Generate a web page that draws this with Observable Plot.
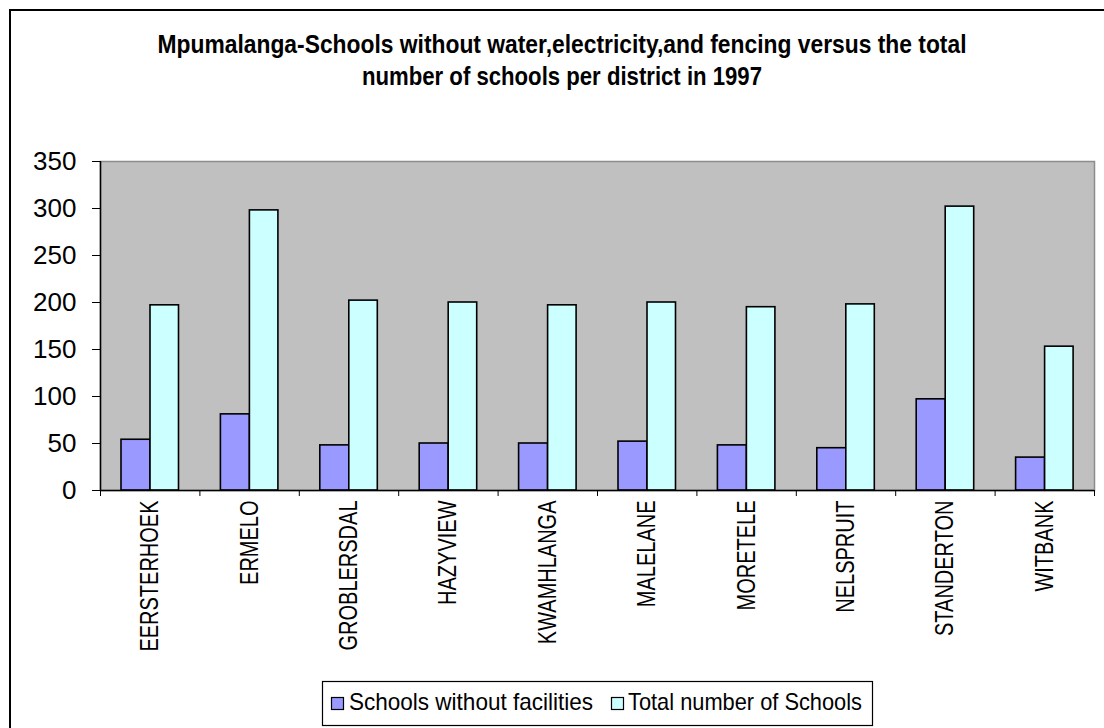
<!DOCTYPE html>
<html>
<head>
<meta charset="utf-8">
<script src="https://cdn.jsdelivr.net/npm/d3@7"></script>
<script src="https://cdn.jsdelivr.net/npm/@observablehq/plot@0.6"></script>
<style>
  html, body { margin: 0; padding: 0; width: 1104px; height: 728px; overflow: hidden; background: #fff; }
  body { position: relative; font-family: "Liberation Sans", Arial, sans-serif; }
  #chart { position: absolute; left: 0; top: 0; }
  #border { position: absolute; left: 9px; top: 9px; width: 1200px; height: 800px; border: 2px solid #000; box-sizing: border-box; }
  svg.overlay { position: absolute; left: 0; top: 0; overflow: visible; }
</style>
</head>
<body>
<div id="border"></div>
<div id="chart"></div>
<svg class="overlay" id="title" width="1104" height="110"></svg>
<svg class="overlay" id="legend" width="1104" height="728" style="pointer-events:none"></svg>
<script>
// ---- data ----
const titleLines = [
  "Mpumalanga-Schools without water,electricity,and fencing versus the total",
  "number of schools per district in 1997"
];
const districts = ["EERSTERHOEK", "ERMELO", "GROBLERSDAL", "HAZYVIEW", "KWAMHLANGA",
                   "MALELANE", "MORETELE", "NELSPRUIT", "STANDERTON", "WITBANK"];
const schoolsWithoutFacilities = [54, 81, 48, 50, 50, 52, 48, 45, 97, 35];
const totalNumberOfSchools = [197, 298, 202, 200, 197, 200, 195, 198, 302, 153];
const seriesNames = ["Schools without facilities", "Total number of Schools"];
const seriesColors = ["#9999FF", "#CCFFFF"];
const yTicks = [0, 50, 100, 150, 200, 250, 300, 350];

// ---- layout ----
const W = 1104, H = 728;
const mLeft = 100, mRight = 10, mTop = 161, mBottom = H - 490;
const band = (W - mLeft - mRight) / districts.length;
const half = band / 2;

const rows = districts.map((d, i) => ({
  district: d,
  without: schoolsWithoutFacilities[i],
  total: totalNumberOfSchools[i]
}));

const plot = Plot.plot({
  width: W,
  height: H,
  marginLeft: mLeft,
  marginRight: mRight,
  marginTop: mTop,
  marginBottom: mBottom,
  style: { fontFamily: '"Liberation Sans", Arial, sans-serif', color: "#000", background: "transparent", overflow: "visible" },
  x: { type: "band", domain: districts, padding: 0, round: false, axis: null },
  y: { domain: [0, 350], label: null, axis: null },
  marks: [
    Plot.frame({ fill: "#C0C0C0", stroke: "#8C8C8C", strokeWidth: 1.5 }),
    Plot.barY(rows, { x: "district", y: "without", fill: seriesColors[0], stroke: "#000", strokeWidth: 1.6,
                      insetLeft: 21, insetRight: band - 50 }),
    Plot.barY(rows, { x: "district", y: "total", fill: seriesColors[1], stroke: "#000", strokeWidth: 1.6,
                      insetLeft: 50, insetRight: band - 78.5 }),
    Plot.ruleY([0], { stroke: "#000", strokeWidth: 1.5 }),
    Plot.ruleX([districts[0]], { x: d => d, dx: -half, stroke: "#000", strokeWidth: 1.5 }),
    Plot.ruleX(districts, { x: d => d, dx: -half, y1: 0, y2: 0, insetBottom: -6, stroke: "#000", strokeWidth: 1 }),
    Plot.ruleX([districts[districts.length - 1]], { x: d => d, dx: half, y1: 0, y2: 0, insetBottom: -6, stroke: "#000", strokeWidth: 1 }),
    Plot.axisY({ ticks: yTicks, tickSize: 8, tickPadding: 16, fontSize: 26, stroke: "#000" }),
    Plot.text(districts, { x: d => d, y: () => 0, dy: 10, text: d => d, rotate: -90,
                           textAnchor: "end", lineAnchor: "middle", fontSize: 25, fill: "#000" })
  ]
});
document.getElementById("chart").appendChild(plot);

// condense rotated district labels (narrow glyphs as in the reference)
plot.querySelectorAll('g[aria-label="text"] text').forEach(t => {
  t.setAttribute("transform", t.getAttribute("transform") + " scale(0.8,1)");
});

// ---- title ----
const NS = "http://www.w3.org/2000/svg";
const titleSvg = document.getElementById("title");
const titleSpec = [
  { y: 53, len: 809, cx: 562 },
  { y: 85, len: 400, cx: 562 }
];
titleLines.forEach((s, i) => {
  const t = document.createElementNS(NS, "text");
  t.setAttribute("x", titleSpec[i].cx);
  t.setAttribute("y", titleSpec[i].y);
  t.setAttribute("text-anchor", "middle");
  t.setAttribute("font-size", "25");
  t.setAttribute("font-weight", "bold");
  t.setAttribute("font-family", '"Liberation Sans", Arial, sans-serif');
  t.setAttribute("textLength", titleSpec[i].len);
  t.setAttribute("lengthAdjust", "spacingAndGlyphs");
  t.textContent = s;
  titleSvg.appendChild(t);
});

// ---- legend ----
const lg = document.getElementById("legend");
const box = document.createElementNS(NS, "rect");
box.setAttribute("x", 322.5); box.setAttribute("y", 681.5);
box.setAttribute("width", 550); box.setAttribute("height", 44);
box.setAttribute("fill", "#fff"); box.setAttribute("stroke", "#000"); box.setAttribute("stroke-width", 1.2);
lg.appendChild(box);
const legendSpec = [
  { sx: 331, tx: 349, len: 244 },
  { sx: 611, tx: 628, len: 234 }
];
seriesNames.forEach((name, i) => {
  const r = document.createElementNS(NS, "rect");
  r.setAttribute("x", legendSpec[i].sx + 0.5); r.setAttribute("y", 697.5);
  r.setAttribute("width", 12); r.setAttribute("height", 12);
  r.setAttribute("fill", seriesColors[i]); r.setAttribute("stroke", "#000"); r.setAttribute("stroke-width", 1.2);
  lg.appendChild(r);
  const t = document.createElementNS(NS, "text");
  t.setAttribute("x", legendSpec[i].tx);
  t.setAttribute("y", 710);
  t.setAttribute("font-size", "24");
  t.setAttribute("font-family", '"Liberation Sans", Arial, sans-serif');
  t.setAttribute("textLength", legendSpec[i].len);
  t.setAttribute("lengthAdjust", "spacingAndGlyphs");
  t.textContent = name;
  lg.appendChild(t);
});
</script>
</body>
</html>
